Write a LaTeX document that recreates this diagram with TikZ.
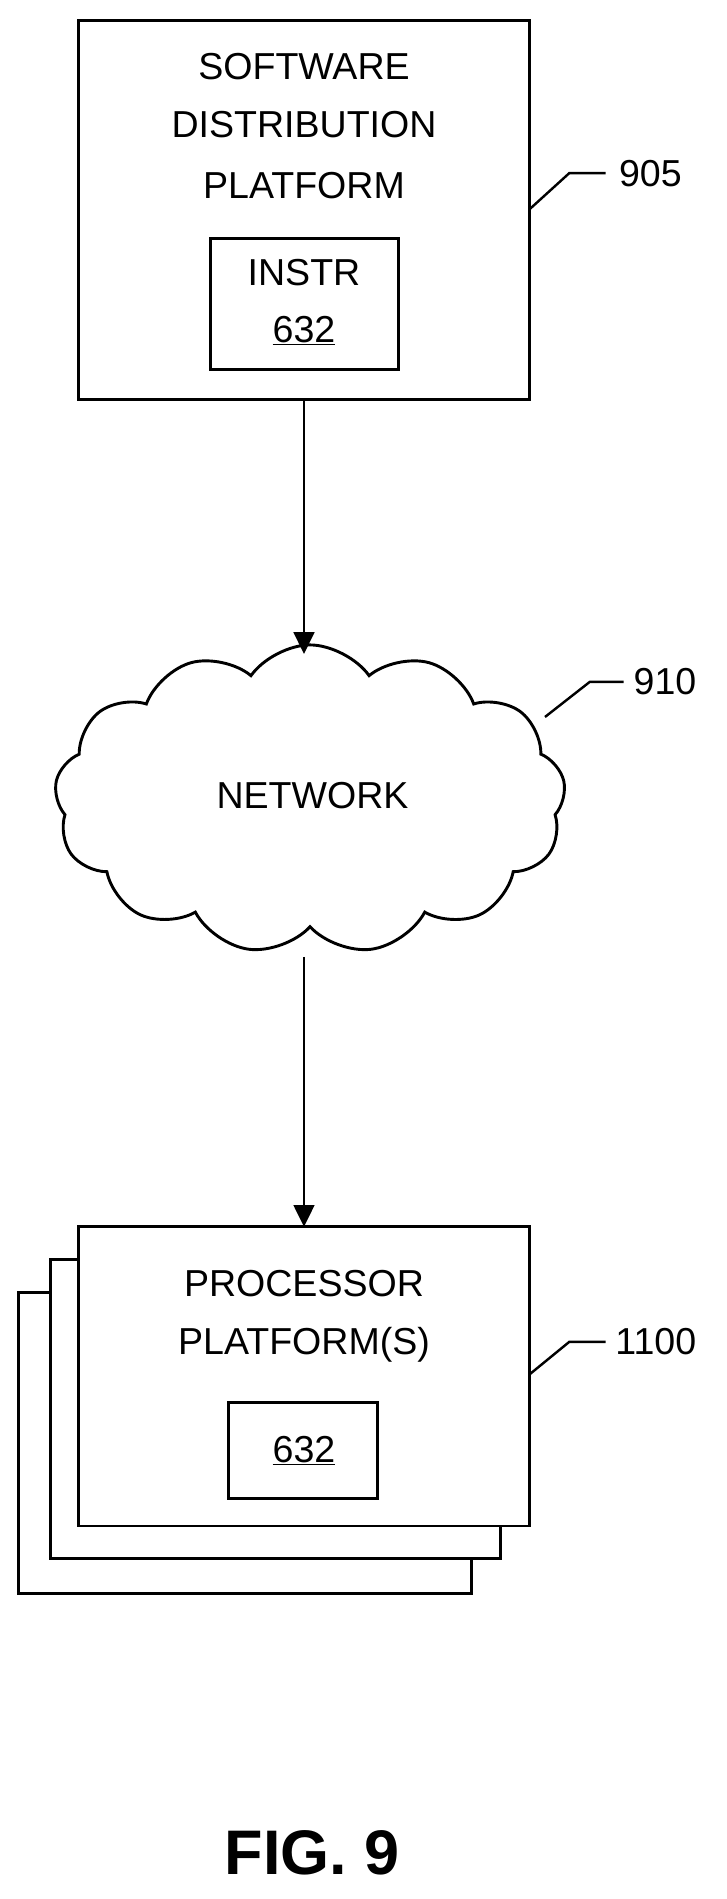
\documentclass[tikz,border=0pt]{standalone}
\usepackage{fontspec}
\setmainfont{Liberation Sans}
\usetikzlibrary{shapes.symbols,arrows.meta}
\begin{document}
\begin{tikzpicture}[x=1pt,y=-1pt,line width=2.4pt,
  box/.style={draw,fill=white,inner sep=0pt},
  lbl/.style={font=\fontsize{31}{37}\selectfont,align=center,inner sep=0pt},
  arr/.style={-{Triangle[length=18pt,width=17pt]}},
  lead/.style={line width=2pt}]
\useasboundingbox (0,0) rectangle (600,1568);
% top box
\draw[box] (65,17) rectangle (437,330);
\node[box,minimum width=155pt,minimum height=108pt] (instr) at (251.5,251) {};
\node (sdp) at (251,17) {};
\node[lbl] (t1) at (251,55) {SOFTWARE};
\node[lbl] (t2) at (251,103) {DISTRIBUTION};
\node[lbl] (t3) at (251,153) {PLATFORM};
\node[lbl] (t4) at (251,225) {INSTR};
\node[lbl] (t5) at (251,273) {\underline{632}};
\coordinate (sdpb) at (251,330);
% leader 905
\coordinate (l1a) at (437,173);
\coordinate (l1b) at (470,143);
\coordinate (l1c) at (500,143);
\draw[lead] (l1a) -- (l1b) -- (l1c);
\node[lbl,anchor=west] (n905) at (510,143) {905};
% cloud
\node[cloud,draw,fill=white,cloud puffs=13,cloud puff arc=110,aspect=1.6,
  minimum width=422pt,minimum height=255pt,inner sep=0pt] (net) at (256,660) {};
\node[lbl] (nt) at (258,657) {NETWORK};
\draw[arr] (sdpb) -- (251,540);
\coordinate (l2a) at (450,592);
\coordinate (l2b) at (487,563);
\coordinate (l2c) at (515,563);
\draw[lead] (l2a) -- (l2b) -- (l2c);
\node[lbl,anchor=west] (n910) at (522,563) {910};
% processor platforms
\draw[box] (15,1067) rectangle (389,1316);
\draw[box] (42,1040) rectangle (413,1287);
\draw[box] (65,1013) rectangle (437,1260);
\node[box,minimum width=123pt,minimum height=79pt] (inner) at (250.5,1197.5) {};
\node[lbl] (p1) at (251,1060) {PROCESSOR};
\node[lbl] (p2) at (251,1110) {PLATFORM(S)};
\node[lbl] (p3) at (251,1198) {\underline{632}};
\draw[arr] (251,790) -- (251,1013);
\coordinate (l3a) at (437,1135);
\coordinate (l3b) at (470,1108);
\coordinate (l3c) at (500,1108);
\draw[lead] (l3a) -- (l3b) -- (l3c);
\node[lbl,anchor=west] (n1100) at (507,1108) {1100};
\node[font=\bfseries\fontsize{52}{60}\selectfont,inner sep=0pt] (fig) at (258,1530) {FIG. 9};
\end{tikzpicture}
\end{document}
